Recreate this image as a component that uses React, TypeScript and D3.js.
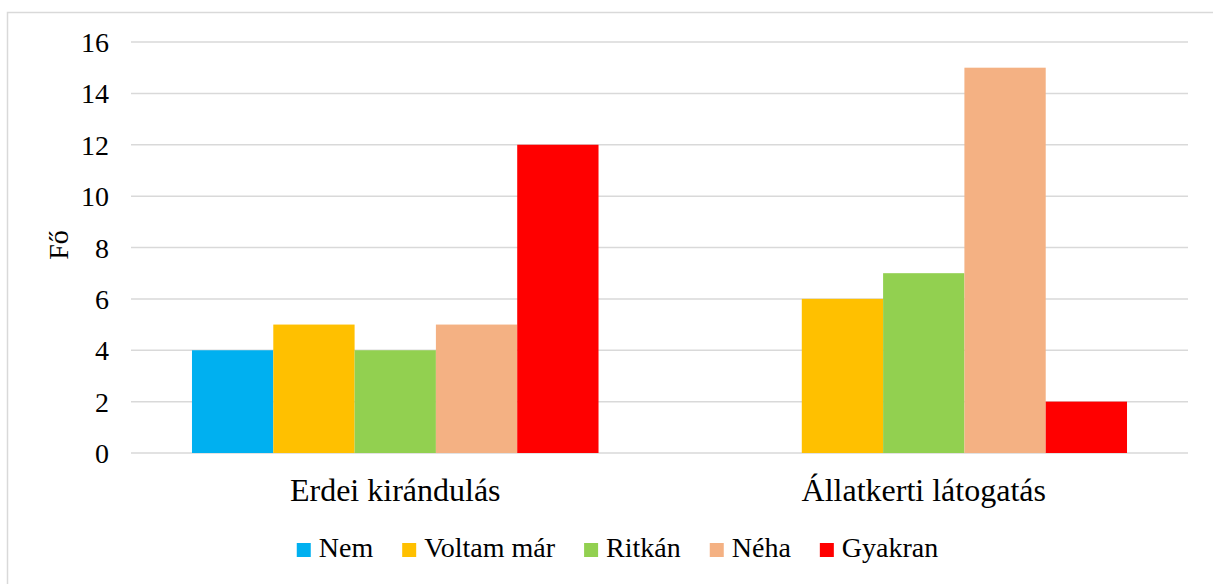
import * as d3 from "d3";

const categories = ["Erdei kirándulás", "Állatkerti látogatás"];
const seriesNames = ["Nem", "Voltam már", "Ritkán", "Néha", "Gyakran"];
const nem = [4, 0];
const voltamMar = [5, 6];
const ritkan = [4, 7];
const neha = [5, 15];
const gyakran = [12, 2];
const yTicks = [0, 2, 4, 6, 8, 10, 12, 14, 16];
const colors = ["#00B0F0", "#FFC000", "#92D050", "#F4B183", "#FF0000"];

const W = 1213;
const H = 584;
const FONT = "Times New Roman";

function measure(text: string, size: number) {
  const ctx = document.createElement("canvas").getContext("2d");
  ctx.font = `${size}px "${FONT}"`;
  return ctx.measureText(text).width;
}

function App() {
  const seriesValues = [nem, voltamMar, ritkan, neha, gyakran];
  const left = 131;
  const right = 1188;
  const y = d3.scaleLinear().domain([0, 16]).range([453, 42]);
  const x0 = d3.scaleBand().domain(categories).range([left, right]);
  const x1 = d3
    .scaleBand()
    .domain(seriesNames)
    .range([0, x0.bandwidth()])
    .paddingOuter(0.75);

  // legend layout from measured text widths
  const widths = seriesNames.map((s) => measure(s, 28));
  const offsets = [];
  let cx = 0;
  widths.forEach((w) => {
    offsets.push(cx);
    cx += 22 + w + 29;
  });
  const legendStart = 617.5 - (cx - 29) / 2;

  return (
    <svg
      width={W}
      height={H}
      style={{ position: "absolute", left: 0, top: 0, background: "white" }}
    >
      <rect x={7.5} y={12.5} width={W + 20} height={H + 20} fill="white" stroke="#d9d9d9" strokeWidth={1.5} />

      {yTicks.map((t) => (
        <line key={"g" + t} x1={left} x2={right} y1={y(t)} y2={y(t)} stroke="#d9d9d9" strokeWidth={1.5} />
      ))}

      {yTicks.map((t) => (
        <text key={"t" + t} x={109} y={y(t) + 10} textAnchor="end" fontFamily={FONT} fontSize={28} fill="#000">
          {t}
        </text>
      ))}

      {categories.map((c, ci) =>
        seriesNames.map((s, si) => (
          <rect
            key={c + s}
            x={x0(c) + x1(s)}
            y={y(seriesValues[si][ci])}
            width={x1.bandwidth()}
            height={y(0) - y(seriesValues[si][ci])}
            fill={colors[si]}
          />
        ))
      )}

      {categories.map((c) => (
        <text key={c} x={x0(c) + x0.bandwidth() / 2} y={501} textAnchor="middle" fontFamily={FONT} fontSize={32} fill="#000">
          {c}
        </text>
      ))}

      <text transform="translate(68,245) rotate(-90)" textAnchor="middle" fontFamily={FONT} fontSize={28} fill="#000">
        Fő
      </text>

      {seriesNames.map((s, i) => (
        <rect key={"lr" + s} x={legendStart + offsets[i]} y={543} width={14} height={14} fill={colors[i]} />
      ))}
      {seriesNames.map((s, i) => (
        <text key={"lt" + s} x={legendStart + offsets[i] + 22} y={557} fontFamily={FONT} fontSize={28} fill="#000">
          {s}
        </text>
      ))}
    </svg>
  );
}

export default App;
